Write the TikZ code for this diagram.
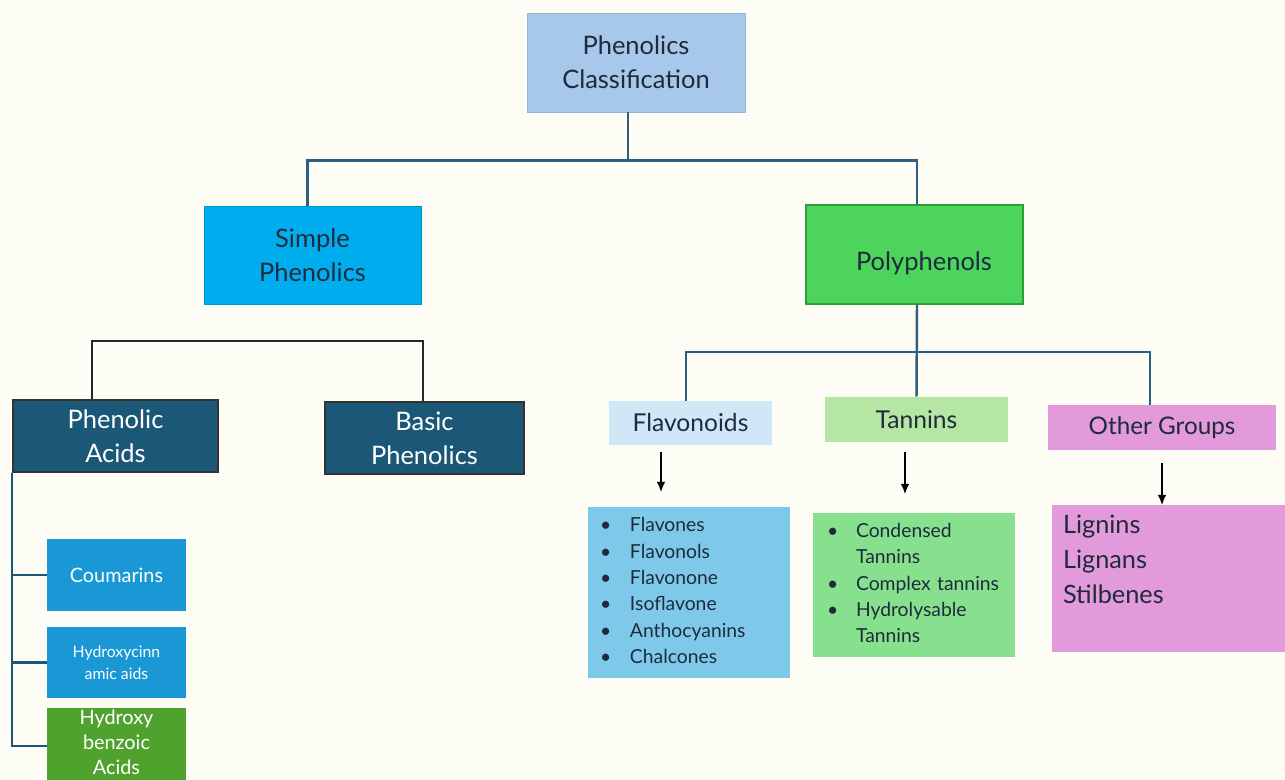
\documentclass[tikz,border=0pt]{standalone}
\usepackage{fontspec}
\setmainfont{Lato}
\usetikzlibrary{arrows.meta,calc}
\definecolor{bgc}{HTML}{FDFDF6}
\definecolor{txt}{HTML}{1E2B3C}
\definecolor{topc}{HTML}{A7C8EA}
\definecolor{simc}{HTML}{00AEEF}
\definecolor{polyc}{HTML}{4DD45D}
\definecolor{polyb}{HTML}{2E9E3A}
\definecolor{darkc}{HTML}{1B5877}
\definecolor{subc}{HTML}{1A98D5}
\definecolor{hbenc}{HTML}{4FA22E}
\definecolor{flavc}{HTML}{CFE7F7}
\definecolor{tanc}{HTML}{B5E6A3}
\definecolor{othc}{HTML}{E29ADA}
\definecolor{flistc}{HTML}{7EC9EA}
\definecolor{tlistc}{HTML}{86E08D}
\definecolor{connc}{HTML}{2F5F80}
\tikzset{
  box/.style={rectangle, inner sep=0pt, align=center, text=txt, font=\fontsize{14.5}{19.5}\selectfont},
  conn/.style={draw=connc, line width=1.4pt},
  blk/.style={draw=black!85, line width=1.3pt},
  tealline/.style={draw=darkc, line width=1.4pt},
  arr/.style={draw=black, line width=1.1pt, -{Latex[length=6pt,width=5pt]}},
  listtxt/.style={font=\fontsize{11}{15}\selectfont, text=txt},
}
\begin{document}
\begin{tikzpicture}[x=0.02cm, y=-0.02cm]
\fill[bgc] (0,0) rectangle (1285,780);
\useasboundingbox (0,0) rectangle (1285,780);

% level 0
\node[box, fill=topc, draw=topc!90!black, minimum width=4.36cm, minimum height=1.98cm] (top) at (636,62.5) {Phenolics\\Classification};
% level 1
\node[box, fill=simc, draw=simc!85!black, minimum width=4.34cm, minimum height=1.96cm] (simple) at (312.5,255) {Simple\\Phenolics};
\node[box, fill=polyc, draw=polyb, line width=0.8pt, minimum width=4.34cm, minimum height=1.98cm] (poly) at (914.5,254.5) {};
\node[box, inner sep=0pt] (polytxt) at (924,263) {Polyphenols};
% simple children
\node[box, fill=darkc, draw=black!80, line width=1pt, text=white, minimum width=4.10cm, minimum height=1.44cm] (pacid) at (115.5,436) {Phenolic\\Acids};
\node[box, fill=darkc, draw=black!80, line width=1pt, text=white, minimum width=3.98cm, minimum height=1.44cm] (basic) at (424.5,438) {Basic\\Phenolics};
\node[box, fill=subc, text=white, font=\fontsize{11.3}{15}\selectfont, minimum width=2.78cm, minimum height=1.44cm] (coum) at (116.5,575) {Coumarins};
\node[box, fill=subc, text=white, font=\fontsize{9}{12.5}\selectfont, minimum width=2.78cm, minimum height=1.42cm] (hcin) at (116.5,662.5) {Hydroxycinn\\amic aids};
\node[box, fill=hbenc, minimum width=2.78cm, minimum height=1.54cm] (hben) at (116.5,746) {};
\node[inner sep=0pt, align=center, text=white, font=\fontsize{11.3}{14.2}\selectfont] (hbentxt) at (116.5,742) {Hydroxy\\benzoic\\Acids};
% polyphenol children
\node[box, fill=flavc, font=\fontsize{14}{18}\selectfont, minimum width=3.26cm, minimum height=0.88cm] (flav) at (690.5,423) {Flavonoids};
\node[box, fill=tanc, font=\fontsize{14}{18}\selectfont, minimum width=3.66cm, minimum height=0.90cm] (tan) at (916.5,419.5) {Tannins};
\node[box, fill=othc, font=\fontsize{13.8}{18}\selectfont, minimum width=4.56cm, minimum height=0.90cm] (other) at (1162,427.5) {Other Groups};
% lists
\node[box, fill=flistc, listtxt, align=left, minimum width=4.04cm, minimum height=3.42cm, text width=3.56cm] (flist) at (689,592.5)
{\begin{tabular}{@{}p{0.6cm}@{}l@{}}
\textbullet & Flavones\\
\textbullet & Flavonols\\
\textbullet & Flavonone\\
\textbullet & Isoflavone\\
\textbullet & Anthocyanins\\
\textbullet & Chalcones
\end{tabular}};
\node[box, fill=tlistc, listtxt, align=left, minimum width=4.04cm, minimum height=2.88cm, text width=3.48cm] (tlist) at (914,585)
{\begin{tabular}{@{}p{0.58cm}@{}l@{}}
\textbullet & Condensed\\
 & Tannins\\
\textbullet & Complex tannins\\
\textbullet & Hydrolysable\\
 & Tannins
\end{tabular}};
\node[box, fill=othc, minimum width=4.66cm, minimum height=2.94cm] (olist) at (1168.5,578.5) {};
\node[anchor=north west, inner sep=0pt, align=left, text=txt, font=\fontsize{14.4}{19.8}\selectfont] (olisttxt) at ([xshift=0.22cm,yshift=-0.2cm]olist.north west) {Lignins\\Lignans\\Stilbenes};

% connectors
\draw[conn] ([xshift=-0.16cm]top.south) -- ++(0,48) coordinate (bar);
\draw[conn] ([xshift=-0.1cm]simple.north) |- (bar) -| ([xshift=0.05cm]poly.north);
\draw[blk] ([xshift=-0.47cm]pacid.north) -- ++(0,-58) -| ([xshift=-0.03cm]basic.north);
\draw[conn] ([xshift=0.05cm]poly.south) -- (tan.north);
\coordinate (pj) at (917,352);
\draw[conn] ([xshift=-0.09cm]flav.north) |- (pj) -| ([xshift=-0.24cm]other.north);
\draw[tealline] (pacid.south west) |- (hben.west);
\draw[tealline] (pacid.south west |- coum.west) -- (coum.west);
\draw[tealline] (pacid.south west |- hcin.west) -- (hcin.west);
% arrows
\draw[arr] ([xshift=-0.59cm,yshift=-0.14cm]flav.south) -- ++(0,40);
\draw[arr] ([xshift=-0.23cm,yshift=-0.2cm]tan.south) -- ++(0,42);
\draw[arr] ([yshift=-0.26cm]other.south) -- ++(0,42);
\end{tikzpicture}
\end{document}
